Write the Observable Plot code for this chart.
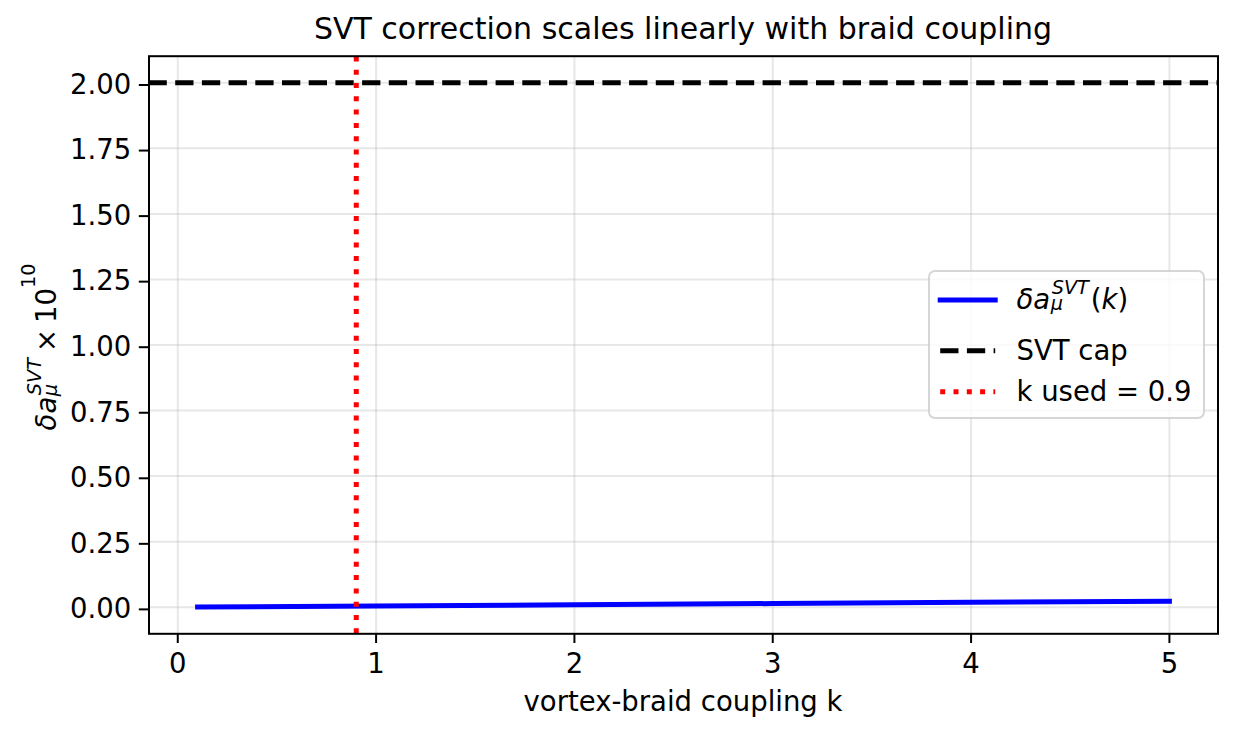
<!DOCTYPE html>
<html>
<head>
<meta charset="utf-8">
<script src="https://cdn.jsdelivr.net/npm/d3@7"></script>
<script src="https://cdn.jsdelivr.net/npm/@observablehq/plot@0.6"></script>
<style>
  html, body { margin: 0; padding: 0; background: #fff; }
  svg { font-family: "DejaVu Sans", sans-serif; }
</style>
</head>
<body>
<div id="chart"></div>
<script>
// ---- data ----
const kValues = [0.1, 1, 2, 3, 4, 5];
const deltaA = [0.0005, 0.0046, 0.0092, 0.0138, 0.0184, 0.023];
const capValue = [2.0];
const kUsed = [0.9];
const xTicks = [0, 1, 2, 3, 4, 5];
const yTicks = [0, 0.25, 0.5, 0.75, 1.0, 1.25, 1.5, 1.75, 2.0];
const titleText = "SVT correction scales linearly with braid coupling";
const xLabelText = "vortex-braid coupling k";
const legendLabels = ["SVT cap", "k used = 0.9"];

// ---- layout ----
const W = 1235, H = 735;
const mL = 148.5, mR = W - 1217.5, mT = 55.7, mB = H - 633.3;
const fs = 27.5, titleFs = 30;

const data = kValues.map((k, i) => ({k, v: deltaA[i]}));

const plot = Plot.plot({
  width: W, height: H,
  marginLeft: mL, marginRight: mR, marginTop: mT, marginBottom: mB,
  style: {fontFamily: "DejaVu Sans", background: "white", color: "black", overflow: "visible"},
  x: {domain: [-0.145, 5.245]},
  y: {domain: [-0.1015, 2.1015]},
  marks: [
    Plot.gridX(xTicks, {stroke: "#b0b0b0", strokeOpacity: 0.3, strokeWidth: 2}),
    Plot.gridY(yTicks, {stroke: "#b0b0b0", strokeOpacity: 0.3, strokeWidth: 2}),
    Plot.line(data, {x: "k", y: "v", stroke: "#0000ff", strokeWidth: 5, strokeLinecap: "square"}),
    Plot.ruleY(capValue, {stroke: "black", strokeWidth: 5, strokeDasharray: "18.3,8.4"}),
    Plot.ruleX(kUsed, {stroke: "#ff0000", strokeWidth: 5, strokeDasharray: "5,8.3", strokeDashoffset: -0.7}),
    Plot.frame({stroke: "black", strokeWidth: 2}),
    Plot.axisX(xTicks, {tickSize: 9.7, tickPadding: 10.2, fontSize: fs, stroke: "black", strokeWidth: 2,
      fill: "black", label: null, tickFormat: d => String(d)}),
    Plot.axisY(yTicks, {tickSize: 9.7, tickPadding: 8.1, fontSize: fs, stroke: "black", strokeWidth: 2,
      fill: "black", label: null, dy: 2.2, tickFormat: d3.format(".2f")})
  ]
});
document.getElementById("chart").appendChild(plot);

const svg = d3.select(plot);

// ---- helper for math-like labels: one <text> with positioned <tspan>s ----
function mathText(g, pieces) {
  const text = g.append("text").attr("text-anchor", "start").attr("fill", "black");
  let x = 0, shift = 0, i = 0;
  const add = (p, px) => {
    const dyAbs = p.dy || 0;
    const ts = text.append("tspan")
      .attr("x", px + (p.dx || 0))
      .attr("dy", dyAbs - shift)
      .attr("font-size", p.size)
      .attr("font-style", p.it ? "italic" : "normal")
      .text(p.t);
    shift = dyAbs;
    return ts.node().getComputedTextLength() + (p.dx || 0) + (p.after || 0);
  };
  while (i < pieces.length) {
    const p = pieces[i];
    if (p.sub && pieces[i + 1] && pieces[i + 1].sup) {
      const a = add(p, x), b = add(pieces[i + 1], x);
      x += Math.max(a, b); i += 2;
    } else { x += add(p, x); i += 1; }
  }
  return {text, width: x};
}
const small = fs * 0.7;
const deltaPieces = [
  {t: "δa", it: true, size: fs},
  {t: "μ", it: true, size: small, dy: 1.5, sub: true, dx: 0.5},
  {t: "SVT", it: true, size: small, dy: -15, sup: true, dx: 1.5}
];

// ---- title ----
svg.append("text")
  .attr("x", (mL + W - mR) / 2).attr("y", 39)
  .attr("text-anchor", "middle").attr("font-size", titleFs).attr("fill", "black")
  .text(titleText);

// ---- x label ----
svg.append("text")
  .attr("x", (mL + W - mR) / 2).attr("y", 711)
  .attr("text-anchor", "middle").attr("font-size", fs).attr("fill", "black")
  .text(xLabelText);

// ---- y label (rotated) ----
const yl = svg.append("g");
const ylInner = yl.append("g");
const ylRes = mathText(ylInner, deltaPieces.concat([
  {t: "×", size: fs, dx: 6, after: 6},
  {t: "10", size: fs},
  {t: "10", size: small, dy: -21}
]));
ylInner.attr("transform", `translate(${-ylRes.width / 2},0)`);
yl.attr("transform", `translate(55.5,347) rotate(-90)`);

// ---- legend ----
const lg = svg.append("g");
lg.append("rect")
  .attr("x", 929).attr("y", 271).attr("width", 275).attr("height", 147).attr("rx", 6)
  .attr("fill", "white").attr("fill-opacity", 0.8)
  .attr("stroke", "#cccccc").attr("stroke-opacity", 0.8).attr("stroke-width", 2);
const hx0 = 940.2, hx1 = 995.2, tx = 1016.5;
const rows = [300, 350.7, 391.7];
lg.append("line").attr("x1", hx0).attr("x2", hx1).attr("y1", rows[0]).attr("y2", rows[0])
  .attr("stroke", "#0000ff").attr("stroke-width", 5).attr("stroke-linecap", "square");
lg.append("line").attr("x1", hx0).attr("x2", hx1).attr("y1", rows[1]).attr("y2", rows[1])
  .attr("stroke", "black").attr("stroke-width", 5).attr("stroke-dasharray", "18.3,8.4");
lg.append("line").attr("x1", hx0).attr("x2", hx1).attr("y1", rows[2]).attr("y2", rows[2])
  .attr("stroke", "#ff0000").attr("stroke-width", 5).attr("stroke-dasharray", "5,8.3");
const l1 = lg.append("g").attr("transform", `translate(${tx},${rows[0] + 8.5})`);
mathText(l1, deltaPieces.concat([
  {t: "(", size: fs, dx: 2},
  {t: "k", it: true, size: fs},
  {t: ")", size: fs}
]));
legendLabels.forEach((s, i) => {
  lg.append("text").attr("x", tx).attr("y", rows[i + 1] + 8.8)
    .attr("text-anchor", "start")
    .attr("font-size", fs).attr("fill", "black").text(s);
});
</script>
</body>
</html>
